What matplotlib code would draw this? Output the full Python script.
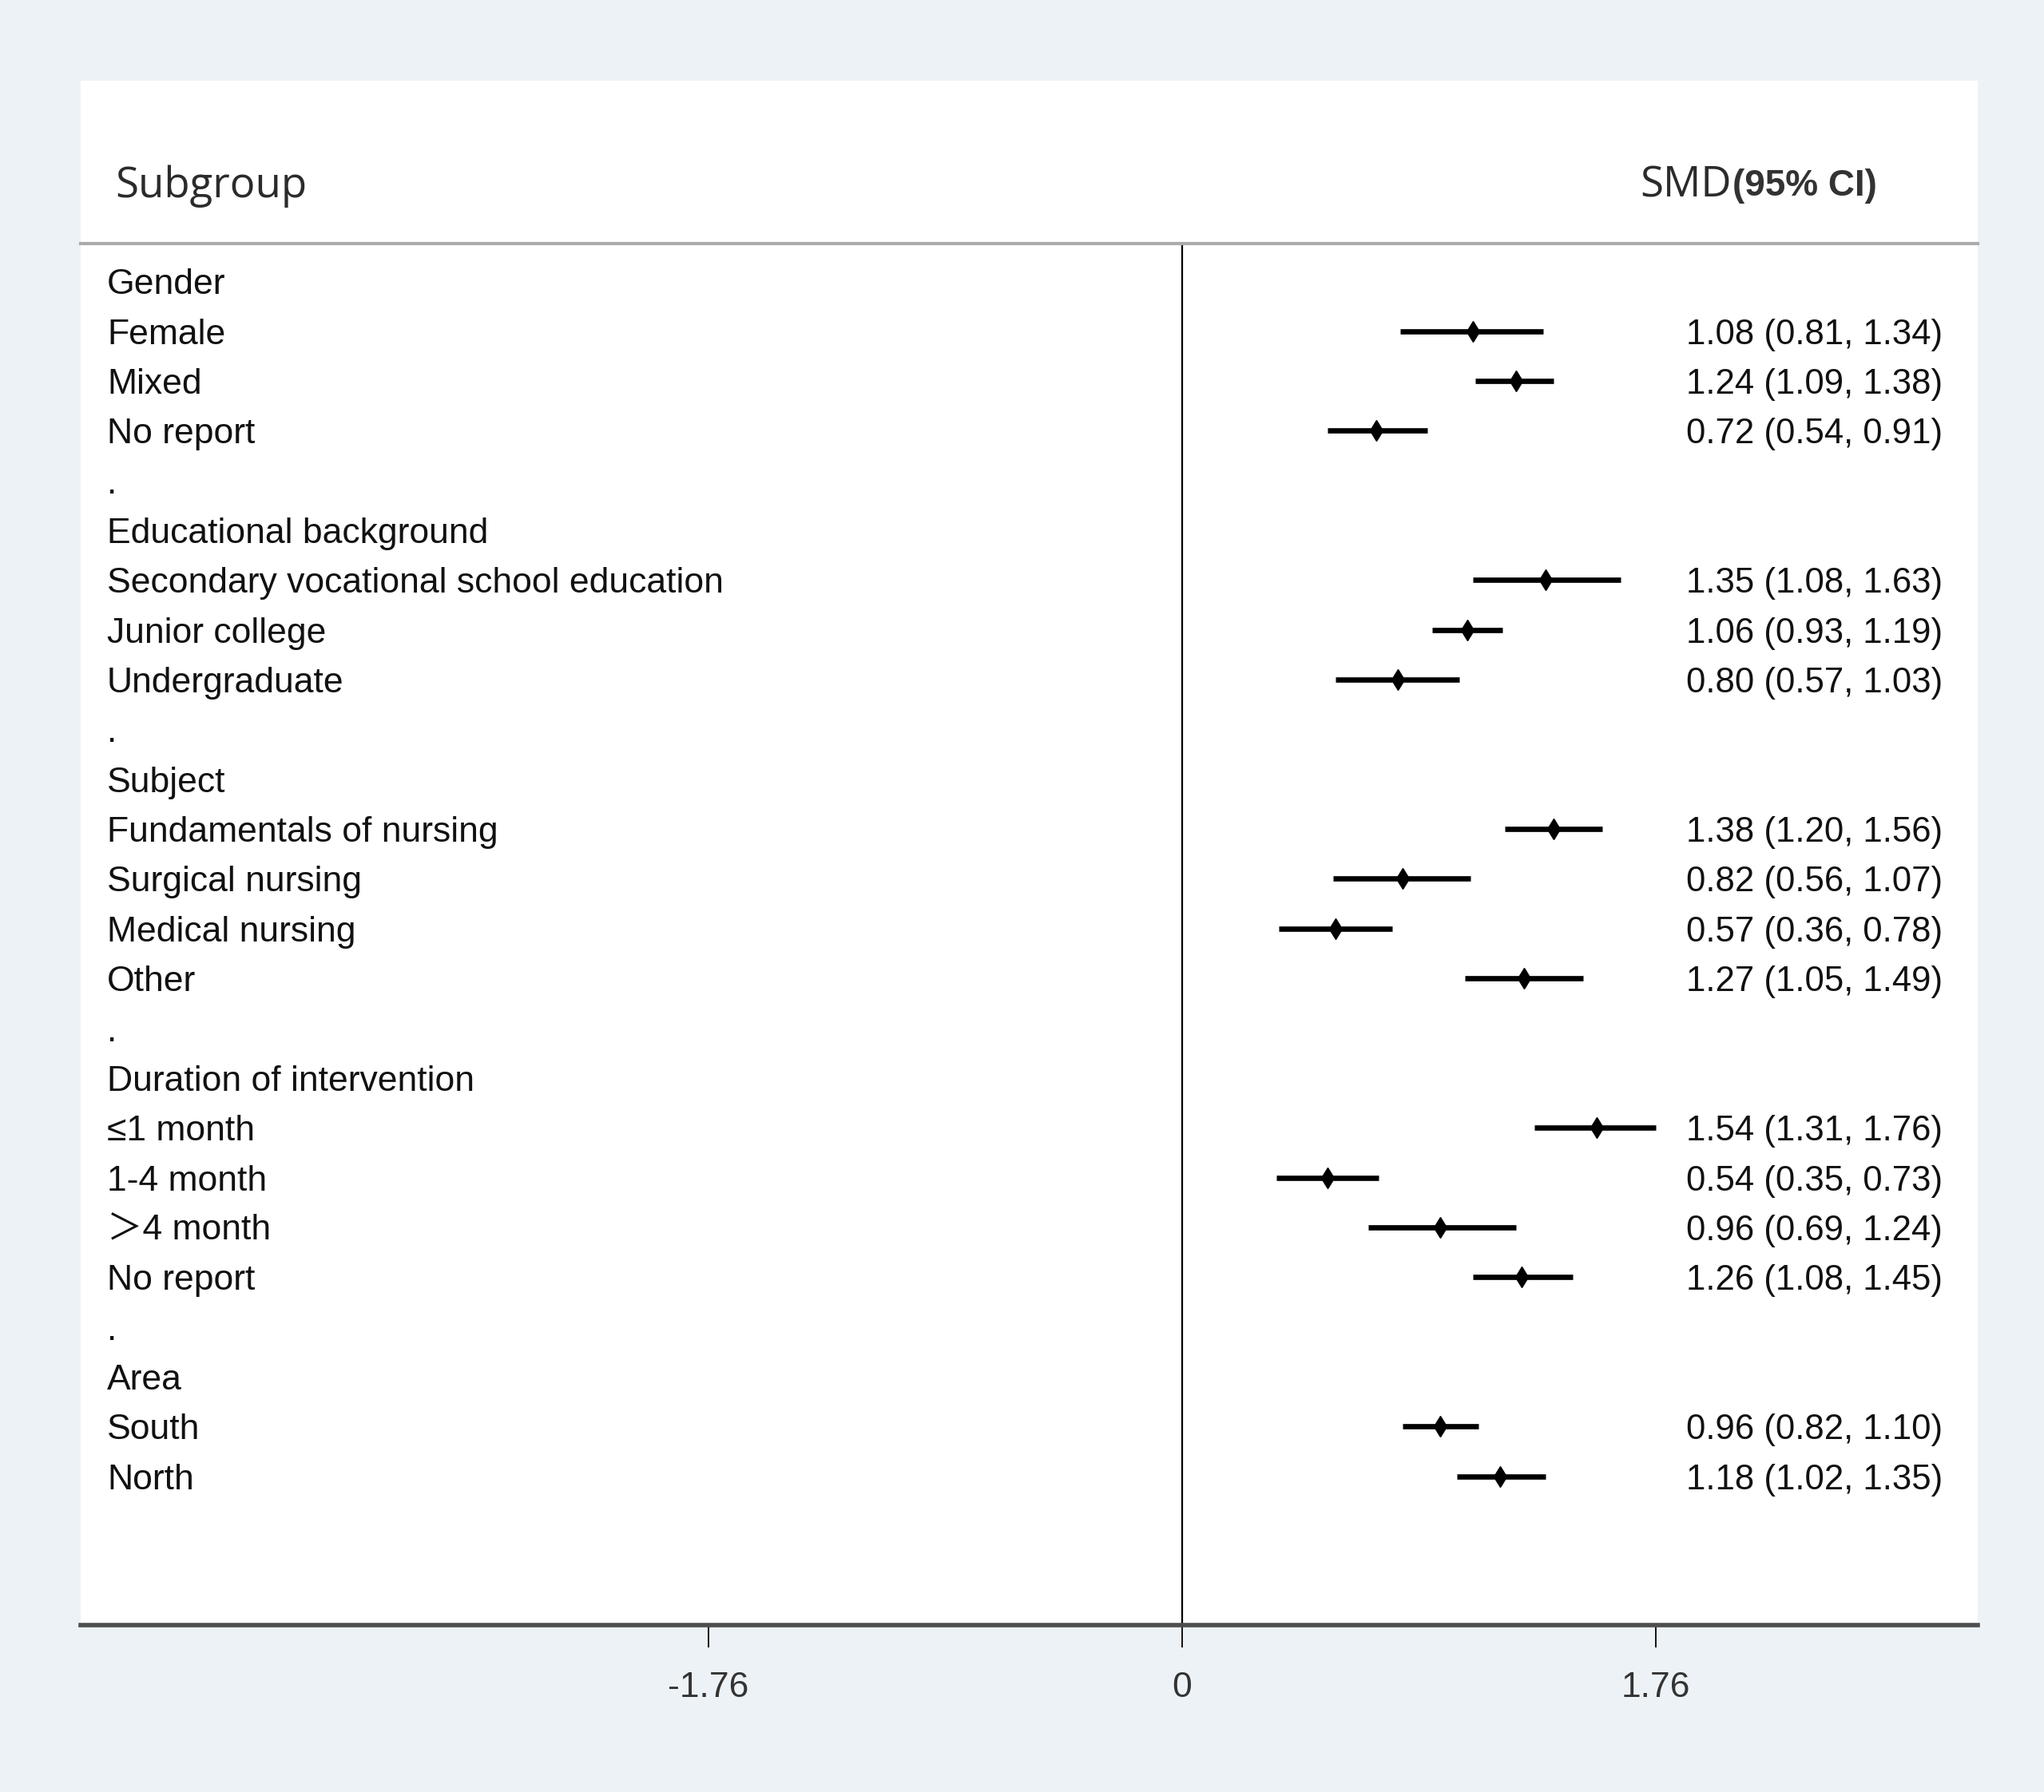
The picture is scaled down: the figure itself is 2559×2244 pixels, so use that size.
import numpy as np
import matplotlib
matplotlib.use("Agg")
import matplotlib.pyplot as plt
from matplotlib.patches import Rectangle

plt.rcParams['font.family'] = ['Liberation Sans', 'Noto Sans CJK SC', 'DejaVu Sans']

# filas del forest plot (los "." son separadores entre grupos)
etiquetas = ["Gender", "Female", "Mixed", "No report", ".",
             "Educational background", "Secondary vocational school education",
             "Junior college", "Undergraduate", ".",
             "Subject", "Fundamentals of nursing", "Surgical nursing",
             "Medical nursing", "Other", ".",
             "Duration of intervention", "≤1 month", "1-4 month", "＞4 month",
             "No report", ".",
             "Area", "South", "North"]
nan = np.nan
smd = [nan, 1.08, 1.24, 0.72, nan,
       nan, 1.35, 1.06, 0.80, nan,
       nan, 1.38, 0.82, 0.57, 1.27, nan,
       nan, 1.54, 0.54, 0.96, 1.26, nan,
       nan, 0.96, 1.18]
ic_inf = [nan, 0.81, 1.09, 0.54, nan,
          nan, 1.08, 0.93, 0.57, nan,
          nan, 1.20, 0.56, 0.36, 1.05, nan,
          nan, 1.31, 0.35, 0.69, 1.08, nan,
          nan, 0.82, 1.02]
ic_sup = [nan, 1.34, 1.38, 0.91, nan,
          nan, 1.63, 1.19, 1.03, nan,
          nan, 1.56, 1.07, 0.78, 1.49, nan,
          nan, 1.76, 0.73, 1.24, 1.45, nan,
          nan, 1.10, 1.35]
ticks = [-1.76, 0, 1.76]
tick_labels = ["-1.76", "0", "1.76"]

W, H = 2559, 2244
fondo = '#edf2f6'
fig = plt.figure(figsize=(W / 100, H / 100), dpi=100, facecolor=fondo)

# panel blanco
x0, x1 = 101 / W, 2476 / W
y_top_panel = 1 - 101 / H
y_axis = 1 - 2035 / H
y_header = 1 - 305 / H
fig.patches.append(Rectangle((x0, y_axis), x1 - x0, y_top_panel - y_axis,
                             transform=fig.transFigure, facecolor='white',
                             edgecolor='none', zorder=-5))

ax = fig.add_axes([x0, y_axis, x1 - x0, y_header - y_axis])
ax.set_facecolor('none')
ax.set_xlim(-4.093, 2.956)
ax.set_ylim(26.99, -0.76)

trans = ax.get_yaxis_transform()

for i, (lab, m, lo, hi) in enumerate(zip(etiquetas, smd, ic_inf, ic_sup)):
    ax.text(0.0139, i, lab, transform=trans, ha='left', va='center_baseline',
            fontsize=32, color='#111111')
    if not np.isnan(m):
        ax.hlines(i, lo, hi, color='black', lw=4.8, zorder=3)
        ax.plot(m, i, marker='d', ms=13, color='black', zorder=4)
        ax.text(0.9815, i, f"{m:.2f} ({lo:.2f}, {hi:.2f})", transform=trans,
                ha='right', va='center_baseline', fontsize=31.5, color='#111111')

ax.axvline(0, color='black', lw=1.6, zorder=2)

for lado in ['left', 'right']:
    ax.spines[lado].set_visible(False)
ax.spines['top'].set_color('#ababab')
ax.spines['top'].set_linewidth(3)
ax.spines['bottom'].set_color('#4d4d4d')
ax.spines['bottom'].set_linewidth(4)

ax.set_yticks([])
ax.set_xticks(ticks)
ax.set_xticklabels(tick_labels)
ax.tick_params(axis='x', direction='out', length=20, width=1.3, color='black',
               pad=22, labelsize=32, labelcolor='#333333')

# encabezados
fig.text(144 / W, 1 - 233 / H, "Subgroup", fontsize=38, family='Open Sans',
         color='#2b2b2b', ha='left', va='center')
smd_txt = fig.text(2053 / W, 1 - 233 / H, "SMD", fontsize=38, family='Open Sans',
                   color='#2b2b2b', ha='left', va='center')
ax.annotate("(95% CI)", xy=(1, 0.5), xycoords=smd_txt, xytext=(1, 0),
            textcoords='offset points', ha='left', va='center',
            fontsize=33, fontweight='bold', color='#333333',
            annotation_clip=False)

fig.savefig('out.png', dpi=100, facecolor=fondo)
